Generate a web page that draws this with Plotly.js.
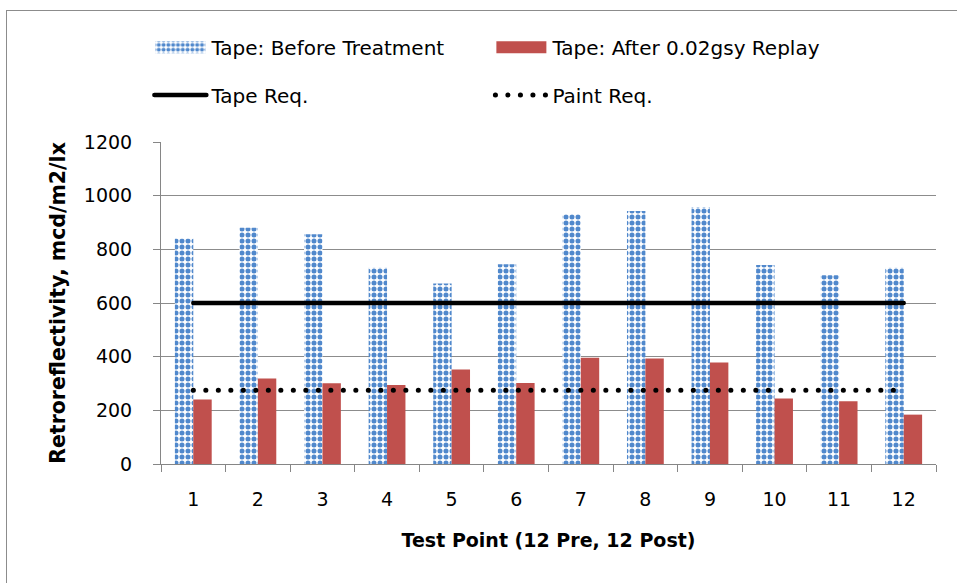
<!DOCTYPE html>
<html>
<head>
<meta charset="utf-8">
<script src="https://cdn.plot.ly/plotly-3.0.1.min.js"></script>
<style>
html,body{margin:0;padding:0;background:#fff;overflow:hidden;}
#wrap{position:relative;width:957px;height:583px;}
#frame{position:absolute;left:6px;top:10px;width:1000px;height:1000px;border:1px solid #8c8c8c;pointer-events:none;box-sizing:border-box;}
.scatterlayer .js-line{stroke-linecap:round;}
.legend2 .js-line{stroke-linecap:round;}
</style>
</head>
<body>
<div id="wrap">
<div id="chart" style="width:957px;height:583px;"></div>
<div id="frame"></div>
</div>
<script>
const categories = ['1','2','3','4','5','6','7','8','9','10','11','12'];
const beforeTreatment = [840, 880, 856, 731, 673, 744, 931, 943, 958, 742, 703, 731];
const afterReplay = [240, 319, 301, 294, 352, 302, 396, 393, 378, 244, 234, 184];
const tapeReq = [600, 600, 600, 600, 600, 600, 600, 600, 600, 600, 600, 600];
const paintReq = [275, 275, 275, 275, 275, 275, 275, 275, 275, 275, 275, 275];
const yTicks = [0, 200, 400, 600, 800, 1000, 1200];

const font = '"DejaVu Sans", sans-serif';

const traces = [
  {type:'bar', x:categories, y:beforeTreatment, name:'Tape: Before Treatment',
   marker:{color:'#ffffff', line:{width:0},
     pattern:{shape:'.', fgcolor:'#5088cc', bgcolor:'#ffffff', size:6, solidity:0.55}},
   legend:'legend'},
  {type:'bar', x:categories, y:afterReplay, name:'Tape: After 0.02gsy Replay',
   marker:{color:'#c0504d', line:{width:0}}, legend:'legend'},
  {type:'scatter', mode:'lines', x:categories, y:tapeReq, name:'Tape Req.',
   line:{color:'#000000', width:4.5}, legend:'legend2'},
  {type:'scatter', mode:'lines', x:categories, y:paintReq, name:'Paint Req.',
   line:{color:'#000000', width:5, dash:'0.1px,12.4px'}, legend:'legend2'}
];

const layout = {
  width:957, height:583,
  margin:{l:161, r:21, t:142, b:119},
  paper_bgcolor:'#ffffff', plot_bgcolor:'#ffffff',
  font:{family:font, color:'#000000', size:18},
  barmode:'group', bargap:0.43, bargroupgap:0,
  showlegend:true,
  legend:{orientation:'h', x:-0.015, xanchor:'left', y:1.294, yanchor:'middle',
    itemwidth:52, entrywidth:274, entrywidthmode:'pixels', font:{family:font, size:20},
    bgcolor:'rgba(0,0,0,0)', traceorder:'normal'},
  legend2:{orientation:'h', x:-0.015, xanchor:'left', y:1.146, yanchor:'middle',
    itemwidth:52, entrywidth:274, entrywidthmode:'pixels', font:{family:font, size:20},
    bgcolor:'rgba(0,0,0,0)', traceorder:'normal'},
  xaxis:{type:'category', tickson:'boundaries', ticks:'outside', ticklen:7, tickcolor:'#868686',
    showline:true, linecolor:'#868686', linewidth:1, showgrid:false,
    tickfont:{family:font, size:19}, ticklabelstandoff:18,
    title:{text:'Test Point (12 Pre, 12 Post)', font:{family:font, size:19, weight:'bold'}, standoff:24}},
  yaxis:{range:[0,1200], tickvals:yTicks, ticks:'outside', ticklen:7, tickcolor:'#868686',
    showline:true, linecolor:'#868686', linewidth:1, showgrid:true, gridcolor:'#8c8c8c', gridwidth:1,
    zeroline:false, tickfont:{family:font, size:19}, ticklabelstandoff:17,
    title:{text:'Retroreflectivity, mcd/m2/lx', font:{family:font, size:20.5, weight:'bold'}, standoff:12}}
};

Plotly.newPlot('chart', traces, layout, {displayModeBar:false, staticPlot:true}).then(function(){
  // widen the bar legend swatches to Excel-like rectangles
  document.querySelectorAll('#chart .legendpoints path').forEach(function(p){
    if ((p.getAttribute('d') || '').replace(/\s/g,'') === 'M6,6H-6V-6H6Z') {
      p.setAttribute('d', 'M25,6H-25V-6H25Z');
    }
  });
});
</script>
</body>
</html>
